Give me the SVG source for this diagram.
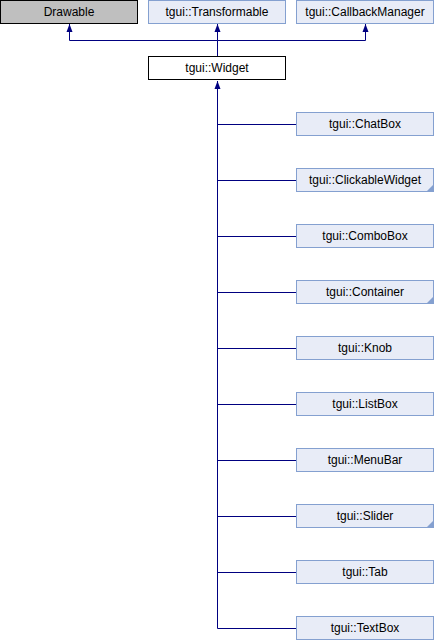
<svg xmlns="http://www.w3.org/2000/svg" width="434" height="640" viewBox="0 0 434 640">
<defs>
<style>
.n{fill:#e8ecf7;stroke:#84a0d0;stroke-width:1}
.t{font-family:"Liberation Sans",Arial,sans-serif;font-size:12px;text-anchor:middle;fill:#000}
.e{fill:none;stroke:#000080;stroke-width:1}
.fold{fill:#84a0d0}
</style>
<marker id="a" viewBox="0 0 8 8" refX="8" refY="4" markerWidth="8" markerHeight="8" orient="auto" markerUnits="userSpaceOnUse">
<path d="M0,1 L8,4 L0,7 Z" fill="#000080"/>
</marker>
</defs>
<g id="edges">
<path class="e" d="M217.5,56 V40.5 H69.5 V24" marker-end="url(#a)"/>
<path class="e" d="M217.5,40.5 V24" marker-end="url(#a)"/>
<path class="e" d="M217.5,40.5 H365.5 V24" marker-end="url(#a)"/>
<path class="e" d="M217.5,628.5 V81" marker-end="url(#a)"/>
<path class="e" d="M217.5,124.5 H296 M217.5,180.5 H296 M217.5,236.5 H296 M217.5,292.5 H296 M217.5,348.5 H296 M217.5,404.5 H296 M217.5,460.5 H296 M217.5,516.5 H296 M217.5,572.5 H296 M217.5,628.5 H296"/>
</g>
<g id="Drawable"><rect x="0.5" y="0.5" width="137" height="23" fill="#bfbfbf" stroke="#000"/><text class="t" x="69" y="16">Drawable</text></g>
<g id="Transformable"><rect class="n" x="148.5" y="0.5" width="137" height="23"/><text class="t" x="217" y="16">tgui::Transformable</text></g>
<g id="CallbackManager"><rect class="n" x="296.5" y="0.5" width="137" height="23"/><text class="t" x="365" y="16">tgui::CallbackManager</text></g>
<g id="Widget"><rect x="148.5" y="56.5" width="137" height="23" fill="#fff" stroke="#000"/><text class="t" x="217" y="72">tgui::Widget</text></g>
<g id="ChatBox"><rect class="n" x="296.5" y="112.5" width="137" height="23"/><text class="t" x="365" y="128">tgui::ChatBox</text></g>
<g id="ClickableWidget"><rect class="n" x="296.5" y="168.5" width="137" height="23"/><path class="fold" d="M433,185 V191 H427 Z"/><text class="t" x="365" y="184">tgui::ClickableWidget</text></g>
<g id="ComboBox"><rect class="n" x="296.5" y="224.5" width="137" height="23"/><text class="t" x="365" y="240">tgui::ComboBox</text></g>
<g id="Container"><rect class="n" x="296.5" y="280.5" width="137" height="23"/><path class="fold" d="M433,297 V303 H427 Z"/><text class="t" x="365" y="296">tgui::Container</text></g>
<g id="Knob"><rect class="n" x="296.5" y="336.5" width="137" height="23"/><text class="t" x="365" y="352">tgui::Knob</text></g>
<g id="ListBox"><rect class="n" x="296.5" y="392.5" width="137" height="23"/><text class="t" x="365" y="408">tgui::ListBox</text></g>
<g id="MenuBar"><rect class="n" x="296.5" y="448.5" width="137" height="23"/><text class="t" x="365" y="464">tgui::MenuBar</text></g>
<g id="Slider"><rect class="n" x="296.5" y="504.5" width="137" height="23"/><path class="fold" d="M433,521 V527 H427 Z"/><text class="t" x="365" y="520">tgui::Slider</text></g>
<g id="Tab"><rect class="n" x="296.5" y="560.5" width="137" height="23"/><text class="t" x="365" y="576">tgui::Tab</text></g>
<g id="TextBox"><rect class="n" x="296.5" y="616.5" width="137" height="23"/><text class="t" x="365" y="632">tgui::TextBox</text></g>
</svg>
